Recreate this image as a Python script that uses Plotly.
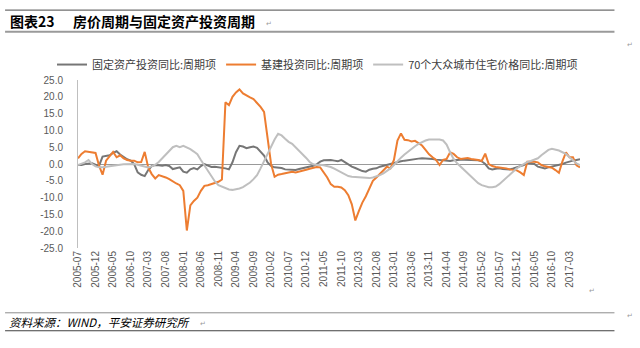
import pandas as pd
import plotly.graph_objects as go

# ---------------- data ----------------
months = list(pd.period_range("2005-07", periods=144, freq="M").strftime("%Y-%m"))

fai_cycle = [  # 固定资产投资同比:周期项
    -0.3, -0.3, 0.0, 0.0, 0.2, -0.2, -0.5, 2.2, 2.4, 2.6,
    3.3, 3.8, 2.8, 2.0, 1.4, 1.0, 0.0, -2.5, -3.2, -3.6,
    -1.8, -0.6, -0.3, -0.4, -0.5, -0.3, -0.6, -1.5, -1.2, -1.0,
    -2.3, -2.6, -1.6, -1.2, -1.6, -0.6, 0.0, -0.5, -0.9, -0.8,
    -0.9, -1.0, -1.3, -1.6, 0.5, 3.5, 5.4, 5.2, 4.7, 5.0,
    5.2, 4.8, 3.8, 2.5, 0.5, -0.6, -1.0, -1.0, -1.2, -1.6,
    -1.7, -1.8, -1.8, -1.5, -1.3, -1.1, -0.8, -0.5, -0.1, 0.7,
    1.1, 1.2, 1.2, 1.0, 0.8, 1.2, 0.5, -0.2, -0.8, -1.2,
    -1.7, -2.1, -2.3, -1.7, -1.4, -1.3, -0.8, -0.5, -0.2, 0.0,
    0.4, 0.7, 0.8, 1.0, 1.2, 1.4, 1.5, 1.6, 1.7, 1.7,
    1.6, 1.5, 1.3, 1.2, 1.2, 1.0, 0.9, 1.1, 1.3, 1.3,
    1.3, 1.3, 1.3, 1.2, 1.1, 0.8, 0.0, -1.3, -1.6, -1.4,
    -1.3, -1.5, -1.6, -1.6, -1.3, -1.0, -0.7, -0.3, 0.4, 0.3,
    0.0, -0.8, -1.1, -1.3, -1.0, -0.8, -0.6, -0.4, 0.0, 0.4,
    0.8, 1.0, 1.2, 1.4,
]

infra_cycle = [  # 基建投资同比:周期项
    1.7, 3.0, 3.8, 3.6, 3.5, 3.3, -0.5, -3.2, 1.0, 2.2,
    3.6, 2.0, 2.6, 1.7, 1.2, 1.0, 1.0, 0.5, 0.6, 3.6,
    -1.0, -3.0, -4.3, -3.3, -3.6, -4.0, -4.5, -5.2, -5.8, -6.3,
    -8.0, -19.8, -12.3, -11.0, -10.0, -8.0, -6.5, -6.3, -6.0, -5.6,
    -5.3, -4.6, 18.4, 17.5, 20.0, 21.3, 22.2, 21.0, 20.3, 19.8,
    19.3, 18.2, 17.0, 15.5, 8.0, 0.0, -3.8, -3.2, -3.0, -2.7,
    -2.6, -2.3, -2.5, -2.3, -2.0, -1.7, -1.4, -1.2, -0.9, -1.0,
    -2.5, -4.0, -6.0, -6.8, -6.8, -7.0, -7.8, -9.3, -12.0, -16.8,
    -14.0, -11.5, -9.6, -7.5, -5.0, -4.0, -2.9, -1.8, -0.8, -1.3,
    1.2, 7.0, 9.1, 7.2, 7.1, 6.7, 6.9, 6.2, 5.5, 4.2,
    2.9, 2.0, 1.2, -0.3, 1.2, 1.5, 3.5, 3.0, 2.0, 1.5,
    1.6, 1.8, 1.5, 1.4, 1.2, 0.9, 3.1, 0.0, -0.6, -0.9,
    -1.0, -1.1, -1.3, -1.6, -1.7, -1.9, -2.5, -3.3, 0.7, 0.8,
    0.7, 0.5, -0.3, -0.7, -0.8, -1.1, -1.8, -2.6, 0.8, 3.5,
    2.0, 2.0, -0.4, -1.0,
]

house_cycle = [  # 70个大众城市住宅价格同比:周期项
    -0.3, 0.0, 0.5, 1.2, 0.0, -0.7, -1.0, -1.0, -0.8, -0.6,
    -0.4, -0.3, -0.2, -0.1, 0.0, 0.0, 0.0, -0.2, -0.5, -0.8,
    -1.0, -0.7, -0.2, 0.6, 1.7, 2.7, 3.7, 5.0, 5.4, 5.0,
    5.4, 5.0, 4.4, 3.7, 2.9, 1.2, -0.5, -2.0, -3.8, -5.2,
    -6.3, -6.8, -7.3, -7.6, -7.7, -7.6, -7.3, -6.9, -6.3, -5.5,
    -4.5, -3.3, -1.3, 0.8, 3.2, 5.2, 7.3, 9.0, 8.5, 7.5,
    6.6, 6.0, 5.0, 4.0, 3.0, 1.8, 0.6, -0.1, -0.3, -0.2,
    -0.4, -0.6, -0.9, -1.4, -2.0, -2.6, -3.2, -3.6, -3.8, -3.9,
    -4.0, -4.1, -4.2, -4.2, -4.0, -3.7, -3.3, -2.8, -2.1, -1.3,
    -0.3, 0.9, 1.9, 2.8, 3.7, 4.5, 5.3, 6.0, 6.6, 7.0,
    7.3, 7.3, 7.2, 7.3, 7.0, 5.8, 3.5, 1.5, 0.2, -0.8,
    -2.0, -3.0, -4.0, -5.0, -5.7, -6.3, -6.7, -6.9, -6.9, -6.7,
    -6.0, -5.0, -4.0, -3.0, -2.2, -1.3, -0.6, 0.1, 0.6, 0.9,
    1.2, 1.7, 2.6, 3.5, 4.2, 4.5, 4.3, 4.0, 3.5, 3.0,
    2.0, 1.0, 0.2, -0.3,
]

series_names = ["固定资产投资同比:周期项", "基建投资同比:周期项", "70个大众城市住宅价格同比:周期项"]
series_colors = ["#767676", "#ED7D31", "#BFBFBF"]
tick_labels = months[::5]
y_ticks = [25, 20, 15, 10, 5, 0, -5, -10, -15, -20, -25]

title_label = "图表23"
title_text = "房价周期与固定资产投资周期"
source_text = "资料来源：WIND，平安证券研究所"

# ---------------- layout geometry (pixels) ----------------
W, H = 640, 348
L, R, T, B = 78, 580.5, 79.5, 248


def px(x):
    return (x - L) / (R - L)


def py(y):
    return (B - y) / (B - T)


fig = go.Figure()
for name, vals, col in zip(series_names, [fai_cycle, infra_cycle, house_cycle], series_colors):
    fig.add_trace(go.Scatter(
        x=months, y=vals, mode="lines", name=name,
        line=dict(color=col, width=2),
    ))

fig.update_layout(
    width=W, height=H,
    margin=dict(l=L, r=W - R, t=T, b=H - B, pad=0),
    paper_bgcolor="white", plot_bgcolor="white",
    font=dict(family="Liberation Sans, Noto Sans CJK SC", size=10, color="#595959"),
    showlegend=True,
    legend=dict(
        orientation="h", x=px(52), xanchor="left", y=py(64), yanchor="middle",
        font=dict(family="Noto Sans CJK SC", size=11, color="#404040"),
        bgcolor="rgba(0,0,0,0)", itemwidth=30, traceorder="normal",
    ),
    xaxis=dict(
        type="category", range=[0, len(months) - 1],
        tickmode="array", tickvals=tick_labels, ticktext=tick_labels,
        tickangle=-90, showgrid=False, showline=False, zeroline=False,
        ticks="", tickfont=dict(family="Liberation Sans", size=10, color="#595959"),
        fixedrange=True,
    ),
    yaxis=dict(
        range=[-25, 25], tickmode="array", tickvals=y_ticks,
        ticktext=[f"{v:.1f}" for v in y_ticks],
        showgrid=False, showline=True, linecolor="#BFBFBF", linewidth=1,
        zeroline=True, zerolinecolor="#9A9A9A", zerolinewidth=1,
        ticks="", ticklabelstandoff=12,
        tickfont=dict(family="Liberation Sans", size=10, color="#595959"),
        fixedrange=True,
    ),
)

shapes = []
# title rules
shapes.append(dict(type="line", xref="paper", yref="paper", x0=px(5), x1=px(615), y0=py(9.5), y1=py(9.5),
                   line=dict(color="#6E6E6E", width=1.2)))
shapes.append(dict(type="line", xref="paper", yref="paper", x0=px(5), x1=px(615), y0=py(31), y1=py(31),
                   line=dict(color="#9A9A9A", width=2)))
# footer rules
shapes.append(dict(type="line", xref="paper", yref="paper", x0=px(5), x1=px(615), y0=py(313), y1=py(313),
                   line=dict(color="#8C8C8C", width=1)))
shapes.append(dict(type="line", xref="paper", yref="paper", x0=px(5), x1=px(615), y0=py(331), y1=py(331),
                   line=dict(color="#404040", width=1.2)))
fig.update_layout(shapes=shapes)

ann = [
    dict(text=f"<b>{title_label}</b>", x=px(8), y=py(20.5), xanchor="left", yanchor="middle",
         font=dict(family="Noto Sans CJK SC", size=14, color="#000000")),
    dict(text=f"<b>{title_text}</b>", x=px(71), y=py(20.5), xanchor="left", yanchor="middle",
         font=dict(family="Noto Sans CJK SC", size=14, color="#000000")),
    dict(text="↵", x=px(264), y=py(23), xanchor="left", yanchor="middle",
         font=dict(family="DejaVu Sans", size=7, color="#9A9A9A")),
    dict(text="↵", x=px(626), y=py(44), xanchor="left", yanchor="middle",
         font=dict(family="DejaVu Sans", size=7, color="#9A9A9A")),
    dict(text="↵", x=px(588), y=py(291), xanchor="left", yanchor="middle",
         font=dict(family="DejaVu Sans", size=7, color="#9A9A9A")),
    dict(text=f"<i>{source_text}</i>", x=px(7), y=py(322.5), xanchor="left", yanchor="middle",
         font=dict(family="Noto Sans CJK SC", size=11.5, color="#000000")),
    dict(text="↵", x=px(198), y=py(324), xanchor="left", yanchor="middle",
         font=dict(family="DejaVu Sans", size=7, color="#9A9A9A")),
    dict(text="↵", x=px(626), y=py(316), xanchor="left", yanchor="middle",
         font=dict(family="DejaVu Sans", size=7, color="#9A9A9A")),
]
for a in ann:
    a.update(xref="paper", yref="paper", showarrow=False)
fig.update_layout(annotations=ann)

fig.write_html("out.html", config=dict(displayModeBar=False))
